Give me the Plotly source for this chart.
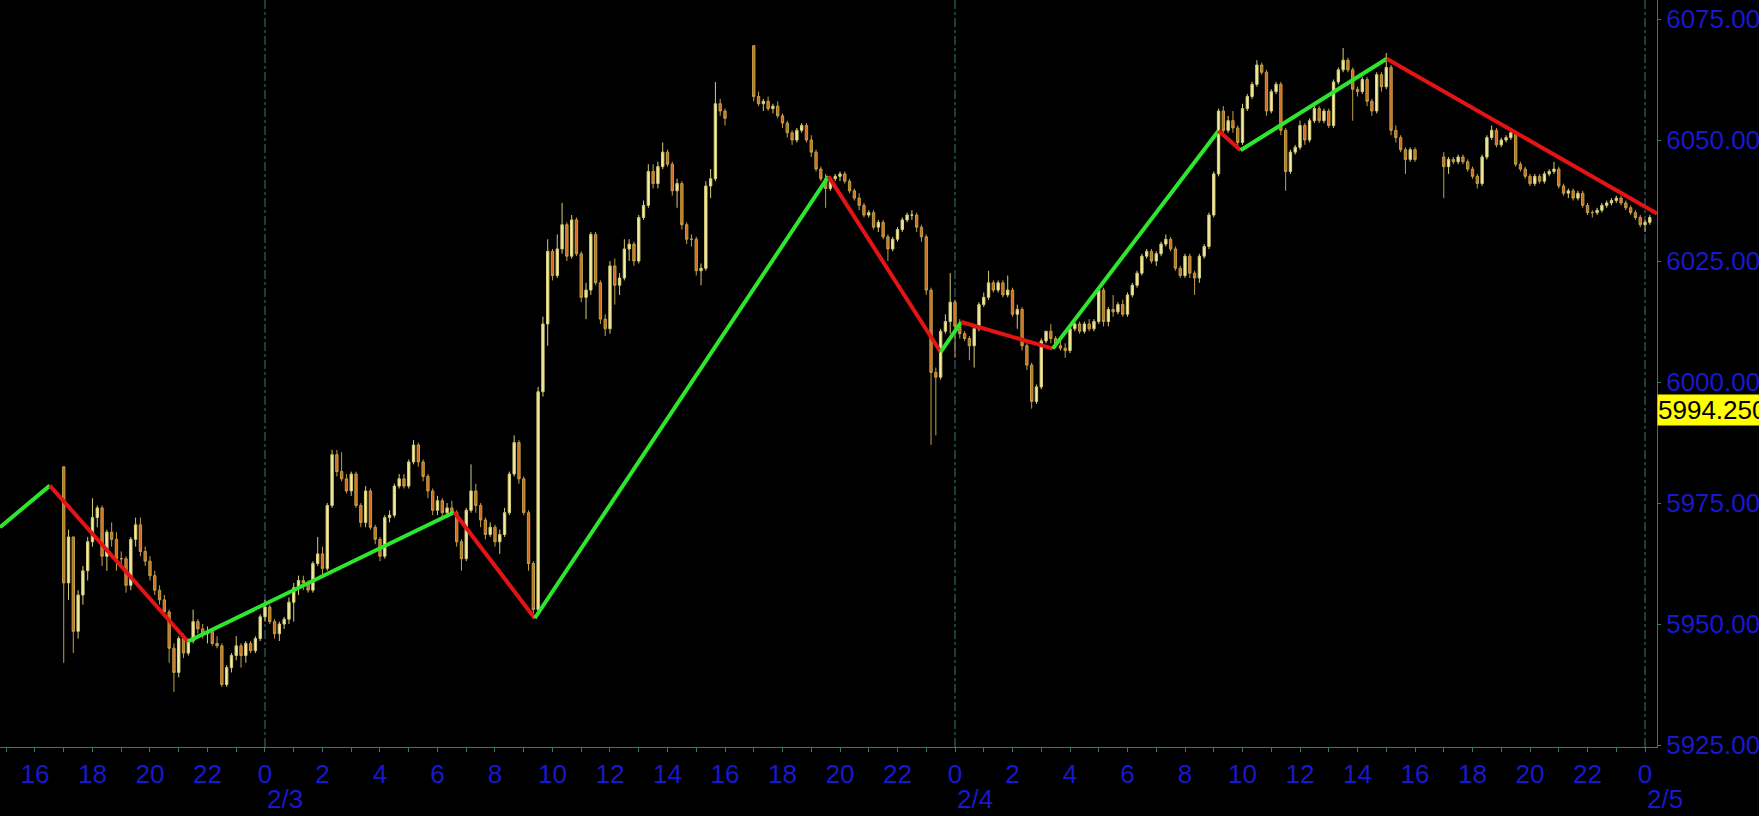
import pandas as pd
import plotly.graph_objects as go

# ---------------- data ----------------
# 10-minute bars, three trading sessions
session_starts = ["2025-02-02 17:00", "2025-02-03 17:00", "2025-02-04 17:00"]

s1_open = [
    5982.5, 5958.5, 5968, 5948.5, 5956, 5961,
    5967, 5972, 5974, 5964, 5969, 5967.5,
    5963.5, 5963.5, 5958, 5967.5, 5970.5, 5965,
    5963, 5960, 5957, 5955, 5952.5, 5945,
    5940, 5947, 5944, 5946.5, 5950.5, 5949,
    5948, 5948.5, 5946, 5945.5, 5937.5, 5941,
    5943.5, 5945.5, 5943.5, 5946, 5944.5, 5947,
    5951.5, 5953.5, 5950.5, 5948, 5950, 5951,
    5954.5, 5957.5, 5959, 5958.5, 5957, 5962.5,
    5964.5, 5961.5, 5974.5, 5985, 5981.5, 5980,
    5977.5, 5981, 5974.5, 5971, 5977.5, 5970,
    5967.5, 5964, 5972, 5972.5, 5978.5, 5980,
    5978.5, 5983.5, 5987, 5983.5, 5980.5, 5977.5,
    5973.5, 5975.5, 5973, 5974, 5973, 5967,
    5963.5, 5973.5, 5977.5, 5974.5, 5971.5, 5968.5,
    5970, 5967, 5968.5, 5973, 5981, 5987.5,
    5980, 5973, 5962.5, 5953, 5998, 6012,
    6027, 6022, 6027.5, 6032.5, 6026, 6033.5,
    6026.5, 6017.5, 6019, 6030.5, 6020.5, 6013,
    6011, 6024, 6020, 6021.5, 6027.5, 6028.5,
    6025, 6034, 6036.5, 6043.5, 6041, 6044.5,
    6047.5, 6045, 6039.5, 6041, 6032.5, 6029.5,
    6029.5, 6023, 6023.5, 6040.5, 6042, 6057.5,
    6056,
]
s1_high = [
    5982.5, 5969.5, 5968, 5957, 5962, 5968,
    5976, 5974.5, 5974.5, 5969.5, 5971, 5969,
    5965, 5964, 5968, 5972, 5972, 5966,
    5964, 5961, 5958, 5956, 5953, 5946,
    5947.5, 5948, 5947, 5953, 5951, 5950,
    5949.5, 5949, 5947.5, 5946, 5941.5, 5944,
    5947.5, 5946, 5946.5, 5946.5, 5947.5, 5952,
    5955, 5954, 5951, 5950.5, 5951.5, 5955.5,
    5958.5, 5960, 5960, 5959, 5963, 5968,
    5966, 5975, 5986, 5986, 5985.5, 5981,
    5981.5, 5981.5, 5975, 5978.5, 5978, 5970.5,
    5968, 5972.5, 5973.5, 5979, 5981, 5981,
    5984, 5988, 5987.5, 5984, 5981, 5978,
    5976.5, 5976, 5975, 5975.5, 5973.5, 5967.5,
    5974, 5983, 5979, 5975, 5972, 5971,
    5970.5, 5969.5, 5974, 5981.5, 5989, 5988,
    5980.5, 5973.5, 5963, 5999, 6013.5, 6029.5,
    6027.5, 6030.5, 6037, 6033, 6034.5, 6034,
    6027, 6020.5, 6031, 6031, 6021, 6014,
    6025, 6025.5, 6022.5, 6029.5, 6029.5, 6029,
    6034.5, 6037.5, 6045, 6045, 6045.5, 6049.5,
    6048, 6045.5, 6042, 6041.5, 6033, 6030.5,
    6030, 6024.5, 6041.5, 6044, 6062, 6058.5,
    6056.5,
]
s1_low = [
    5942, 5955, 5944, 5947, 5954, 5959,
    5966, 5970, 5962, 5961, 5966, 5961,
    5962, 5956.5, 5957, 5966, 5964, 5962,
    5959, 5956, 5954, 5951.5, 5942, 5936,
    5939, 5943, 5943.5, 5946, 5948, 5947,
    5946, 5945.5, 5945, 5937, 5937, 5940,
    5942.5, 5941, 5942, 5944, 5944, 5946.5,
    5950.5, 5950, 5947, 5946.5, 5949, 5950,
    5950.5, 5956, 5957, 5956.5, 5956.5, 5962,
    5960, 5961, 5974, 5980.5, 5979.5, 5977,
    5976.5, 5974, 5970, 5970, 5969.5, 5966.5,
    5963, 5963.5, 5971, 5972, 5978, 5978,
    5978, 5983, 5982.5, 5979.5, 5976, 5972.5,
    5972.5, 5972, 5972, 5972.5, 5966, 5961,
    5963, 5973, 5973, 5970, 5967.5, 5968,
    5966, 5964.5, 5968, 5972.5, 5980.5, 5979,
    5972.5, 5961, 5951, 5952.5, 5997, 6007.5,
    6021, 6021.5, 6026.5, 6025, 6025.5, 6026,
    6016.5, 6013, 6018, 6020, 6012, 6009.5,
    6010, 6016, 6018, 6021, 6025, 6024,
    6024.5, 6033.5, 6036, 6040, 6040, 6044,
    6044.5, 6038.5, 6036, 6031.5, 6028.5, 6028,
    6022, 6020, 6023, 6038, 6041.5, 6055,
    6053,
]
s1_close = [
    5958.5, 5968, 5948.5, 5956, 5961, 5967,
    5972, 5974, 5964, 5969, 5967.5, 5963.5,
    5963.5, 5958, 5967.5, 5970.5, 5965, 5963,
    5960, 5957, 5955, 5952.5, 5945, 5940,
    5947, 5944, 5946.5, 5950.5, 5949, 5948,
    5948.5, 5946, 5945.5, 5937.5, 5941, 5943.5,
    5945.5, 5943.5, 5946, 5944.5, 5947, 5951.5,
    5953.5, 5950.5, 5948, 5950, 5951, 5954.5,
    5957.5, 5959, 5958.5, 5957, 5962.5, 5964.5,
    5961.5, 5974.5, 5985, 5981.5, 5980, 5977.5,
    5981, 5974.5, 5971, 5977.5, 5970, 5967.5,
    5964, 5972, 5972.5, 5978.5, 5980, 5978.5,
    5983.5, 5987, 5983.5, 5980.5, 5977.5, 5973.5,
    5975.5, 5973, 5974, 5973, 5967, 5963.5,
    5973.5, 5977.5, 5974.5, 5971.5, 5968.5, 5970,
    5967, 5968.5, 5973, 5981, 5987.5, 5980,
    5973, 5962.5, 5953, 5998, 6012, 6027,
    6022, 6027.5, 6032.5, 6026, 6033.5, 6026.5,
    6017.5, 6019, 6030.5, 6020.5, 6013, 6011,
    6024, 6020, 6021.5, 6027.5, 6028.5, 6025,
    6034, 6036.5, 6043.5, 6041, 6044.5, 6047.5,
    6045, 6039.5, 6041, 6032.5, 6029.5, 6029.5,
    6023, 6023.5, 6040.5, 6042, 6057.5, 6056,
    6054.5,
]

s2_open = [
    6069.5, 6059, 6057.5, 6058, 6056.5, 6057,
    6055, 6053.5, 6051.5, 6050, 6052, 6053,
    6050, 6047.5, 6044, 6042, 6040, 6042,
    6042.5, 6043, 6041.5, 6039.5, 6038, 6036.5,
    6034.5, 6035, 6032, 6033, 6030, 6027.5,
    6029.5, 6031.5, 6033.5, 6034.5, 6034.5, 6032,
    6030, 6019, 6002, 6001, 6010.5, 6012.5,
    6016.5, 6011.5, 6010, 6009, 6007.5, 6011,
    6016, 6017.5, 6020.5, 6019, 6020.5, 6018,
    6019, 6014, 6015, 6007.5, 6003.5, 5996,
    5999, 6008.5, 6010.5, 6009, 6007.5, 6007,
    6006.5, 6011, 6012, 6010.5, 6012, 6011,
    6012.5, 6019, 6012.5, 6015, 6014.5, 6016,
    6014, 6018, 6020, 6022.5, 6026, 6027,
    6025, 6026.5, 6028.5, 6029.5, 6027.5, 6023.5,
    6022, 6026, 6022.5, 6021.5, 6026, 6028,
    6034.5, 6043, 6056, 6052, 6054, 6052.5,
    6049.5, 6056.5, 6059, 6061.5, 6065.5, 6064,
    6056, 6060, 6061.5, 6052, 6043.5, 6047.5,
    6048.5, 6053, 6050, 6054, 6056.5, 6054,
    6056, 6053, 6062, 6064.5, 6066.5, 6064.5,
    6060.5, 6060, 6062.5, 6058, 6056, 6063.5,
    6061, 6065, 6052, 6050.5, 6048, 6046,
    6048,
]
s2_high = [
    6069.5, 6060, 6058.5, 6059, 6057.5, 6058,
    6055.5, 6054, 6052, 6052.5, 6053.5, 6053.5,
    6051, 6048, 6044.5, 6043, 6042.5, 6043,
    6043.5, 6043.5, 6042, 6040, 6039, 6037,
    6035.5, 6035.5, 6033.5, 6033.5, 6030.5, 6030,
    6032, 6034, 6035, 6035.5, 6035, 6032.5,
    6030.5, 6019.5, 6003, 6011, 6014, 6022.5,
    6017, 6013, 6010.5, 6009.5, 6011.5, 6016.5,
    6018.5, 6023, 6021, 6021, 6021, 6022,
    6019.5, 6016, 6015.5, 6008, 6004, 5999.5,
    6009, 6010.5, 6012, 6009.5, 6008.5, 6008,
    6011.5, 6012.5, 6012.5, 6012.5, 6013, 6013,
    6019.5, 6019.5, 6015.5, 6018, 6016.5, 6017,
    6018.5, 6020.5, 6023, 6026.5, 6027.5, 6027.5,
    6027, 6029, 6030.5, 6030, 6028, 6024,
    6026.5, 6026.5, 6023, 6026.5, 6028.5, 6035,
    6043.5, 6056.5, 6057, 6055, 6056, 6053,
    6057.5, 6059.5, 6062, 6066.5, 6066, 6064.5,
    6060.5, 6062, 6062, 6052.5, 6048, 6049,
    6054, 6053.5, 6054.5, 6057, 6057, 6056.5,
    6056.5, 6062.5, 6065, 6069, 6067, 6065,
    6061, 6063, 6063, 6058.5, 6064, 6064,
    6068, 6065.5, 6053, 6051, 6048.5, 6048.5,
    6048.5,
]
s2_low = [
    6058, 6057, 6056, 6056, 6055.5, 6054.5,
    6052.5, 6050.5, 6049, 6049.5, 6051.5, 6049.5,
    6046.5, 6043.5, 6041.5, 6036, 6039.5, 6041.5,
    6041.5, 6041, 6039, 6037.5, 6035.5, 6034,
    6034, 6031.5, 6031, 6029.5, 6025, 6027,
    6029, 6031, 6033, 6033.5, 6031, 6029,
    6018, 5987, 5989, 6000.5, 6010, 6010,
    6005, 6009, 6008.5, 6004.5, 6003, 6010.5,
    6015.5, 6017, 6018.5, 6018.5, 6017.5, 6017.5,
    6013.5, 6011, 6006.5, 6002.5, 5994.5, 5995.5,
    5998.5, 6008, 6008, 6007, 6006.5, 6005,
    6006, 6010.5, 6010, 6010, 6010.5, 6010.5,
    6012, 6011.5, 6011.5, 6013.5, 6014, 6013.5,
    6013.5, 6017.5, 6019.5, 6022, 6025.5, 6024.5,
    6024, 6026, 6028, 6027, 6023, 6021.5,
    6021.5, 6021.5, 6018, 6020.5, 6025.5, 6027.5,
    6034, 6042.5, 6051.5, 6051.5, 6051.5, 6048.5,
    6049, 6056, 6058.5, 6061, 6063.5, 6055,
    6055.5, 6059.5, 6051, 6039.5, 6043, 6047,
    6048, 6049, 6049.5, 6053.5, 6053.5, 6053.5,
    6052.5, 6052.5, 6061.5, 6064, 6064, 6054,
    6059, 6059.5, 6057, 6055, 6055.5, 6060,
    6060.5, 6051, 6049.5, 6047.5, 6043, 6045.5,
    6045.5,
]
s2_close = [
    6059, 6057.5, 6058, 6056.5, 6057, 6055,
    6053.5, 6051.5, 6050, 6052, 6053, 6050,
    6047.5, 6044, 6042, 6040, 6042, 6042.5,
    6043, 6041.5, 6039.5, 6038, 6036.5, 6034.5,
    6035, 6032, 6033, 6030, 6027.5, 6029.5,
    6031.5, 6033.5, 6034.5, 6034.5, 6032, 6030,
    6019, 6002, 6001, 6010.5, 6012.5, 6016.5,
    6011.5, 6010, 6009, 6007.5, 6011, 6016,
    6017.5, 6020.5, 6019, 6020.5, 6018, 6019,
    6014, 6015, 6007.5, 6003.5, 5996, 5999,
    6008.5, 6010.5, 6009, 6007.5, 6007, 6006.5,
    6011, 6012, 6010.5, 6012, 6011, 6012.5,
    6019, 6012.5, 6015, 6014.5, 6016, 6014,
    6018, 6020, 6022.5, 6026, 6027, 6025,
    6026.5, 6028.5, 6029.5, 6027.5, 6023.5, 6022,
    6026, 6022.5, 6021.5, 6026, 6028, 6034.5,
    6043, 6056, 6052, 6054, 6052.5, 6049.5,
    6056.5, 6059, 6061.5, 6065.5, 6064, 6056,
    6060, 6061.5, 6052, 6043.5, 6047.5, 6048.5,
    6053, 6050, 6054, 6056.5, 6054, 6056,
    6053, 6062, 6064.5, 6066.5, 6064.5, 6060.5,
    6060, 6062.5, 6058, 6056, 6063.5, 6061,
    6065, 6052, 6050.5, 6048, 6046, 6048,
    6046,
]

s3_open = [
    6046.5, 6044.5, 6046, 6045.5, 6046.5, 6045.5,
    6044, 6042.5, 6041, 6046.5, 6050.5, 6052,
    6049, 6050, 6050.5, 6051.5, 6045, 6044,
    6042.5, 6041, 6042.5, 6041.5, 6043, 6043.5,
    6044, 6040.5, 6039, 6039.5, 6038, 6039,
    6036.5, 6035, 6035, 6035.5, 6036.5, 6037,
    6037.5, 6038, 6037, 6036, 6035, 6034,
    6032.5, 6033,
]
s3_high = [
    6047.5, 6046.5, 6046.5, 6047, 6047, 6046,
    6044.5, 6043, 6047, 6051, 6053, 6052.5,
    6050.5, 6051, 6052.5, 6052, 6045.5, 6044.5,
    6043, 6043, 6043, 6043.5, 6044, 6045.5,
    6044.5, 6041, 6040, 6040, 6039.5, 6039.5,
    6037, 6035.5, 6036, 6037, 6037.5, 6038,
    6038.5, 6038.5, 6037.5, 6036.5, 6035.5, 6034.5,
    6033.5, 6034.5,
]
s3_low = [
    6038, 6043, 6045, 6045, 6045, 6043.5,
    6042, 6040, 6040.5, 6046, 6050, 6048.5,
    6048.5, 6049.5, 6050, 6044.5, 6043.5, 6042,
    6040.5, 6040.5, 6041, 6041, 6042.5, 6043,
    6040, 6038.5, 6038, 6037.5, 6037.5, 6036,
    6034.5, 6034, 6034.5, 6035, 6036, 6036.5,
    6037, 6036.5, 6035.5, 6034.5, 6033.5, 6032,
    6031, 6032.5,
]
s3_close = [
    6044.5, 6046, 6045.5, 6046.5, 6045.5, 6044,
    6042.5, 6041, 6046.5, 6050.5, 6052, 6049,
    6050, 6050.5, 6051.5, 6045, 6044, 6042.5,
    6041, 6042.5, 6041.5, 6043, 6043.5, 6044,
    6040.5, 6039, 6039.5, 6038, 6039, 6036.5,
    6035, 6035, 6035.5, 6036.5, 6037, 6037.5,
    6038, 6037, 6036, 6035, 6034, 6032.5,
    6033, 6034,
]

# zigzag indicator pivots
zz_time = [
    "2025-02-02 14:47", "2025-02-02 16:31", "2025-02-02 21:19",
    "2025-02-03 06:35", "2025-02-03 09:23", "2025-02-03 19:36",
    "2025-02-03 23:30", "2025-02-04 00:13", "2025-02-04 03:24",
    "2025-02-04 09:10", "2025-02-04 09:56", "2025-02-04 15:01",
    "2025-02-05 00:25",
]
zz_price = [
    5970.0, 5978.6, 5946.4,
    5973.1, 5951.2, 6042.5,
    6006.2, 6012.4, 6006.9,
    6051.9, 6047.9, 6066.8,
    6034.8,
]

day_marks = ["2025-02-03", "2025-02-04", "2025-02-05"]
price_ticks = [5925, 5950, 5975, 6000, 6025, 6050, 6075]
marker_price = 5994.25
x_window = ["2025-02-02 14:47", "2025-02-05 00:25"]
y_window = [5924.6, 6078.93]

# ---------------- build ----------------
sessions = [
    (s1_open, s1_high, s1_low, s1_close),
    (s2_open, s2_high, s2_low, s2_close),
    (s3_open, s3_high, s3_low, s3_close),
]
t_all, o_all, h_all, l_all, c_all = [], [], [], [], []
for start, (o, h, l, c) in zip(session_starts, sessions):
    assert len(o) == len(h) == len(l) == len(c)
    t_all += list(pd.date_range(start, periods=len(o), freq="10min"))
    o_all += o
    h_all += h
    l_all += l
    c_all += c

BLUE = "#1818cc"
TEAL = "#3d7676"
FONT = "Liberation Sans, Arial, sans-serif"

fig = go.Figure()
fig.add_trace(go.Candlestick(
    x=t_all, open=o_all, high=h_all, low=l_all, close=c_all,
    increasing=dict(line=dict(color="#d6cc78", width=1), fillcolor="#f5efa4"),
    decreasing=dict(line=dict(color="#c0a048", width=1), fillcolor="#d2691e"),
    whiskerwidth=0, hoverinfo="skip", showlegend=False,
))

zz_t = pd.to_datetime(zz_time)
for i in range(len(zz_price) - 1):
    up = zz_price[i + 1] > zz_price[i]
    fig.add_trace(go.Scatter(
        x=[zz_t[i], zz_t[i + 1]], y=[zz_price[i], zz_price[i + 1]],
        mode="lines", line=dict(color="#2ee62e" if up else "#e41414", width=4),
        hoverinfo="skip", showlegend=False,
    ))

shapes = []
annotations = []
for d in pd.to_datetime(day_marks):
    shapes.append(dict(type="line", xref="x", yref="paper", x0=d, x1=d, y0=0, y1=1,
                       line=dict(color=TEAL, width=1, dash="dashdot"), layer="below"))
    annotations.append(dict(x=d, y=0, xref="x", yref="paper", text=f"{d.month}/{d.day}",
                            showarrow=False, xanchor="left", yanchor="middle", yshift=-52,
                            font=dict(family=FONT, size=26, color=BLUE)))

annotations.append(dict(x=1, y=marker_price, xref="paper", yref="y", text=f"{marker_price:.3f}",
                        showarrow=False, xanchor="left", yanchor="middle",
                        bgcolor="#ffff00", borderpad=0,
                        font=dict(family=FONT, size=26, color="#000000")))

fig.update_layout(
    width=1759, height=816,
    margin=dict(l=0, r=102, t=0, b=69),
    paper_bgcolor="#000000", plot_bgcolor="#000000",
    showlegend=False, hovermode=False,
    shapes=shapes, annotations=annotations,
    xaxis=dict(
        type="date", range=x_window, rangeslider=dict(visible=False),
        showgrid=False, zeroline=False,
        showline=True, linecolor=TEAL, linewidth=1,
        tick0="2025-02-02 00:00", dtick=2 * 3600000, tickformat="%-H",
        ticks="outside", ticklen=4, tickcolor=TEAL,
        minor=dict(dtick=3600000, ticks="outside", ticklen=4, tickcolor=TEAL),
        tickfont=dict(family=FONT, size=26, color=BLUE),
    ),
    yaxis=dict(
        side="right", range=y_window, tickvals=price_ticks, tickformat=".2f",
        showgrid=False, zeroline=False,
        showline=True, linecolor=TEAL, linewidth=1,
        ticks="outside", ticklen=3, tickcolor=TEAL,
        tickfont=dict(family=FONT, size=26, color=BLUE),
    ),
)

fig.write_html(
    "out.html",
    config={"displayModeBar": False},
    post_script="document.body.style.margin='0';document.body.style.background='#000';",
)
